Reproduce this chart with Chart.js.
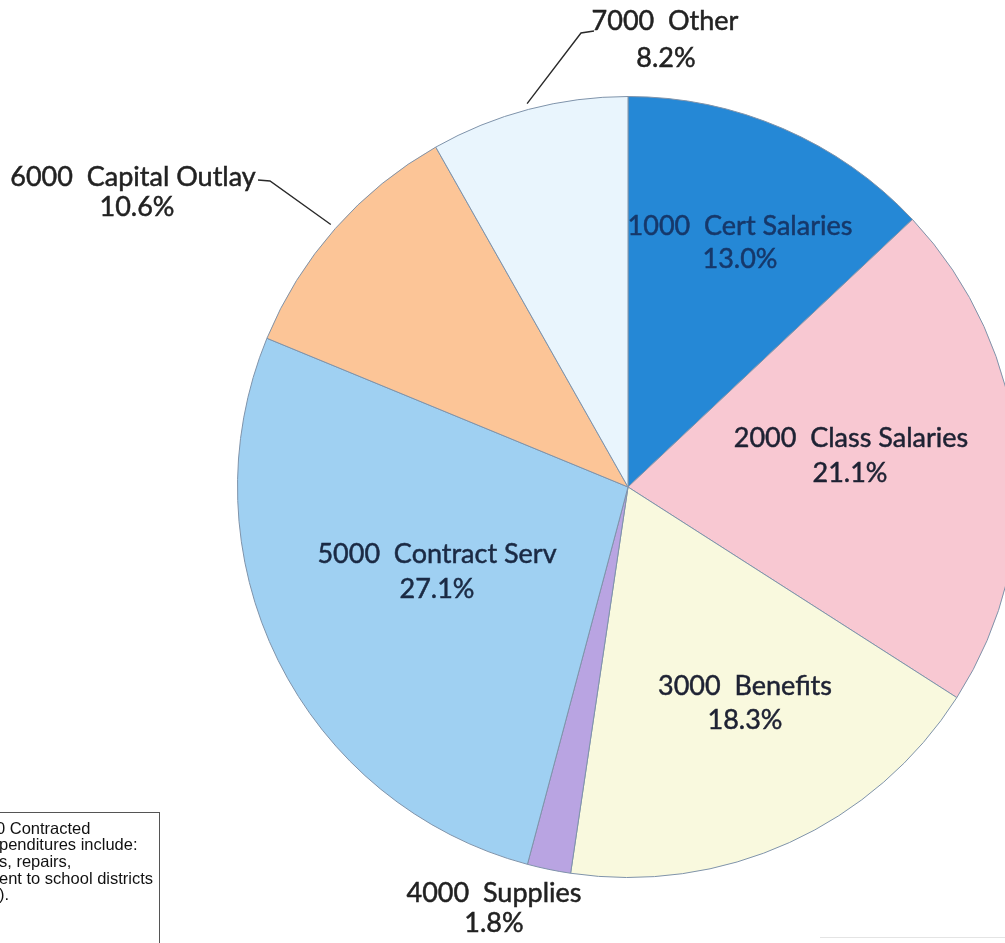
<!DOCTYPE html>
<html>
<head>
<meta charset="utf-8">
<script src="https://cdn.jsdelivr.net/npm/chart.js@4.4.1/dist/chart.umd.min.js"></script>
<style>
  html, body { margin: 0; padding: 0; background: #fff; overflow: hidden; }
  #wrap { width: 1005px; height: 943px; overflow: hidden; position: relative; }
  canvas { display: block; }
</style>
</head>
<body>
<div id="wrap"><canvas id="c" width="1040" height="943"></canvas></div>
<script>
// ---- data ----
const categories = ['1000  Cert Salaries', '2000  Class Salaries', '3000  Benefits', '4000  Supplies', '5000  Contract Serv', '6000  Capital Outlay', '7000  Other'];
const percentages = [13.0, 21.1, 18.3, 1.8, 27.1, 10.6, 8.2];
const noteLines = ['0 Contracted', 'penditures include:', 's, repairs,', 'ent to school districts', ').'];

// ---- styling / layout ----
const sliceColors = ['#2588d6', '#f8c8d2', '#f9f9de', '#b9a4e2', '#9fd0f2', '#fcc597', '#e9f5fd'];
const labelColors = ['#16386a', '#1e2233', '#1e2233', '#222222', '#1b2a44', '#222222', '#222222'];
// label line centers relative to pie centre: [dx1, dy1, dx2, dy2]
const labelPos = [
  [112, -261, 112, -228],
  [223, -49, 222, -14],
  [117, 199, 117, 233],
  [-134, 406, -134, 436],
  [-191, 67, -191, 102],
  [-495, -310, -491, -280],
  [37, -466, 38, -429]
];
// leader lines: index -> [elbow dx, dy, end dx, dy] relative to centre
const leaders = {
  5: [-358, -306, -370, -307],
  6: [-47, -454, -34, -456]
};

const labelPlugin = {
  id: 'sliceLabels',
  afterDatasetsDraw(chart) {
    const ctx = chart.ctx;
    const meta = chart.getDatasetMeta(0);
    ctx.save();
    meta.data.forEach((arc, i) => {
      const cx = arc.x, cy = arc.y;
      if (leaders[i]) {
        const mid = (arc.startAngle + arc.endAngle) / 2;
        const r = arc.outerRadius + 6;
        const sx = cx + Math.cos(mid) * r, sy = cy + Math.sin(mid) * r;
        const L = leaders[i];
        ctx.beginPath();
        ctx.moveTo(sx, sy);
        ctx.lineTo(cx + L[0], cy + L[1]);
        ctx.lineTo(cx + L[2], cy + L[3]);
        ctx.strokeStyle = '#2a2a2a';
        ctx.lineWidth = 1.4;
        ctx.stroke();
      }
      const p = labelPos[i];
      ctx.fillStyle = labelColors[i];
      ctx.strokeStyle = labelColors[i];
      ctx.lineWidth = 0.5;
      ctx.font = '27px Lato, "Open Sans", sans-serif';
      ctx.textAlign = 'center';
      ctx.textBaseline = 'middle';
      const t1 = categories[i], t2 = percentages[i].toFixed(1) + '%';
      ctx.fillText(t1, cx + p[0], cy + p[1]);
      ctx.strokeText(t1, cx + p[0], cy + p[1]);
      ctx.fillText(t2, cx + p[2], cy + p[3]);
      ctx.strokeText(t2, cx + p[2], cy + p[3]);
    });
    ctx.restore();
  }
};

const notePlugin = {
  id: 'noteBox',
  afterDraw(chart) {
    const ctx = chart.ctx;
    ctx.save();
    ctx.strokeStyle = '#555';
    ctx.lineWidth = 1;
    ctx.strokeRect(-2.5, 812.5, 162, 140);
    ctx.fillStyle = '#111';
    ctx.font = '16.5px "Liberation Sans", Arial, sans-serif';
    ctx.textAlign = 'left';
    ctx.textBaseline = 'middle';
    noteLines.forEach((t, k) => {
      ctx.fillText(t, k === 0 ? -4 : -1, 829 + k * 16.7);
    });
    ctx.strokeStyle = '#e4e4e4';
    ctx.beginPath();
    ctx.moveTo(820, 937.5);
    ctx.lineTo(1040, 937.5);
    ctx.stroke();
    ctx.restore();
  }
};

new Chart(document.getElementById('c'), {
  type: 'pie',
  data: {
    labels: categories,
    datasets: [{
      data: percentages,
      backgroundColor: sliceColors,
      borderColor: '#7f93aa',
      borderWidth: 1,
      hoverOffset: 0
    }]
  },
  options: {
    responsive: false,
    animation: false,
    layout: { padding: { left: 237, top: 96, right: 21, bottom: 65 } },
    plugins: {
      legend: { display: false },
      tooltip: { enabled: false },
      title: { display: false }
    }
  },
  plugins: [labelPlugin, notePlugin]
});
</script>
</body>
</html>
